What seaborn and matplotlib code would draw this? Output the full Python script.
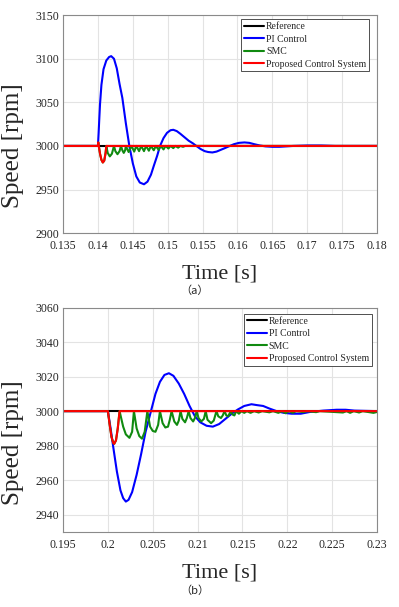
import matplotlib
matplotlib.use("Agg")
import matplotlib.pyplot as plt
import seaborn as sns

# ---- panel (a): load step at t = 0.14 s ----
A_REF = [(0.135, 3000), (0.180, 3000)]
A_PI = [(0.1350, 3000), (0.1400, 3000), (0.1401, 3015), (0.1402, 3032), (0.1403, 3048),
        (0.1405, 3070), (0.1408, 3088), (0.1412, 3098), (0.1416, 3102), (0.1419, 3103),
        (0.1423, 3100), (0.1427, 3089), (0.1431, 3071), (0.1435, 3055), (0.1440, 3026),
        (0.1445, 3000), (0.1450, 2980), (0.1455, 2965), (0.1460, 2958), (0.1466, 2956),
        (0.1471, 2959), (0.1476, 2967), (0.1480, 2977), (0.1485, 2989), (0.1489, 3000),
        (0.1494, 3009), (0.1499, 3015), (0.1504, 3018), (0.1508, 3018.5), (0.1513, 3017),
        (0.1518, 3014), (0.1524, 3010), (0.1530, 3006), (0.1536, 3003), (0.1541, 3000),
        (0.1547, 2996.5), (0.1553, 2994), (0.1558, 2993), (0.1564, 2992.5), (0.1570, 2993.5),
        (0.1576, 2995.5), (0.1582, 2997.5), (0.1589, 3000), (0.1595, 3002), (0.1602, 3003.5),
        (0.1610, 3004), (0.1617, 3003.5), (0.1624, 3002), (0.1632, 3000.5), (0.1640, 2999.5),
        (0.1650, 2999), (0.1660, 2999), (0.1670, 2999.5), (0.1680, 3000), (0.1700, 3000.5),
        (0.1720, 3000.5), (0.1740, 3000), (0.1800, 3000)]
A_SMC = [(0.1350, 3000), (0.1400, 3000), (0.14005, 3004), (0.1401, 3001), (0.1403, 2991),
         (0.1405, 2984), (0.1407, 2981), (0.1409, 2983), (0.1411, 2992), (0.1412, 3000),
         (0.1414, 2992), (0.1417, 2988), (0.1420, 2991), (0.1423, 3000),
         (0.1425, 2994), (0.1428, 2990.5), (0.1431, 2994), (0.1433, 3000),
         (0.1435, 2995), (0.1437, 2992), (0.1439, 2995), (0.1440, 3000),
         (0.1444, 2993), (0.1448, 3000), (0.1452, 2993.5), (0.1455, 3000),
         (0.1459, 2994), (0.1462, 3000), (0.1466, 2994), (0.1469, 3000),
         (0.1473, 2994.5), (0.1476, 3000), (0.1480, 2995), (0.1483, 3000),
         (0.1487, 2995.5), (0.1490, 3000), (0.1494, 2996), (0.1497, 3000),
         (0.1501, 2997), (0.1504, 3000), (0.1508, 2997.5), (0.1511, 3000),
         (0.1515, 2998), (0.1518, 3000), (0.1522, 2999), (0.1525, 3000),
         (0.1800, 3000)]
A_PROP = [(0.1350, 3000), (0.1400, 3000), (0.14005, 3004), (0.1401, 3001), (0.1403, 2991),
          (0.1405, 2984), (0.1407, 2981), (0.1409, 2983), (0.1411, 2992), (0.1412, 3000),
          (0.1800, 3000)]
A_XTICKS = [0.135, 0.14, 0.145, 0.15, 0.155, 0.16, 0.165, 0.17, 0.175, 0.18]
A_XLABELS = ["0.135", "0.14", "0.145", "0.15", "0.155", "0.16", "0.165", "0.17", "0.175", "0.18"]
A_YTICKS = [2900, 2950, 3000, 3050, 3100, 3150]

# ---- panel (b): load step at t = 0.2 s ----
B_REF = [(0.195, 3000), (0.230, 3000)]
B_PI = [(0.1950, 3000), (0.2000, 3000), (0.2003, 2990), (0.2006, 2979), (0.2010, 2965),
        (0.2014, 2954), (0.2017, 2949.5), (0.2020, 2947.5), (0.2023, 2948.5), (0.2027, 2953),
        (0.2032, 2963), (0.2037, 2975), (0.2042, 2988), (0.2048, 3000), (0.2053, 3010),
        (0.2058, 3017), (0.2063, 3021), (0.2068, 3022), (0.2073, 3020.5), (0.2079, 3016),
        (0.2085, 3010), (0.2091, 3003), (0.2097, 2997), (0.2103, 2993.5), (0.2110, 2991.5),
        (0.2117, 2991), (0.2124, 2992.5), (0.2131, 2995.5), (0.2138, 2998.5), (0.2145, 3001),
        (0.2152, 3003), (0.2160, 3004), (0.2166, 3003.5), (0.2173, 3003), (0.2180, 3001.5),
        (0.2188, 3000), (0.2196, 2999), (0.2205, 2998.5), (0.2215, 2998.5), (0.2225, 2999.5),
        (0.2240, 3000.3), (0.2255, 3000.8), (0.2265, 3000.8), (0.2275, 3000.3), (0.2300, 3000)]
B_SMC = [(0.1950, 3000), (0.2000, 3000), (0.2002, 2992), (0.2004, 2985), (0.2006, 2981.5),
         (0.2007, 2981), (0.2009, 2983), (0.2011, 2990), (0.2013, 3000),
         (0.2017, 2991), (0.2020, 2986.5), (0.2024, 2984.5), (0.2027, 2988), (0.2029, 3000),
         (0.2032, 2990), (0.2035, 2985.5), (0.2038, 2984), (0.2041, 2988), (0.2044, 3000),
         (0.2047, 2991), (0.2050, 2988.5), (0.2053, 2988), (0.2056, 2992), (0.2058, 3000),
         (0.2061, 2993), (0.2064, 2990.5), (0.2067, 2991), (0.2069, 2995), (0.2071, 3000),
         (0.2074, 2994), (0.2077, 2992), (0.2079, 2994.5), (0.2081, 3000),
         (0.2083, 2995.5), (0.2086, 2993.5), (0.2088, 2996), (0.2090, 3000),
         (0.2092, 2996), (0.2095, 2994), (0.2097, 2996), (0.2099, 3000),
         (0.2101, 2996), (0.2104, 2994), (0.2107, 2995.5), (0.2109, 3000),
         (0.2111, 2995), (0.2115, 2993), (0.2118, 2994.5), (0.2121, 3000),
         (0.2123, 2997), (0.2126, 2996), (0.2128, 2997.5), (0.2130, 3000),
         (0.2132, 2997.5), (0.2134, 2997), (0.2137, 3000),
         (0.2139, 2998), (0.2141, 2997.5), (0.2143, 3000),
         (0.2146, 2998.5), (0.2149, 3000), (0.2152, 2999), (0.2155, 3000),
         (0.2159, 2999), (0.2163, 3000), (0.2168, 2999.2), (0.2172, 3000),
         (0.2180, 2999.3), (0.2184, 3000), (0.2190, 2999), (0.2194, 3000),
         (0.2198, 2998.8), (0.2202, 3000), (0.2206, 2999), (0.2210, 3000),
         (0.2218, 2999.4), (0.2222, 3000), (0.2232, 2999.4), (0.2236, 3000),
         (0.2262, 2999.2), (0.2266, 3000), (0.2270, 2999), (0.2274, 3000),
         (0.2280, 2999.2), (0.2284, 3000), (0.2296, 2999), (0.2300, 2999.5)]
B_PROP = [(0.1950, 3000), (0.2000, 3000), (0.2002, 2992), (0.2004, 2985), (0.2006, 2981.5),
          (0.2007, 2981), (0.2009, 2983), (0.2011, 2990), (0.2013, 3000), (0.2300, 3000)]
B_XTICKS = [0.195, 0.2, 0.205, 0.21, 0.215, 0.22, 0.225, 0.23]
B_XLABELS = ["0.195", "0.2", "0.205", "0.21", "0.215", "0.22", "0.225", "0.23"]
B_YTICKS = [2940, 2960, 2980, 3000, 3020, 3040, 3060]

LABELS = ["Reference", "PI Control", "SMC", "Proposed Control System"]
COLORS = ["#000000", "#0000ff", "#108a10", "#ff0000"]
SERIF = "Liberation Serif"


def draw_panel(ax, series, xlim, ylim, xticks, xlabels, yticks, caption, anchor):
    for data, color, label in zip(series, COLORS, LABELS):
        t = [p[0] for p in data]
        v = [p[1] for p in data]
        sns.lineplot(x=t, y=v, ax=ax, color=color, lw=1.5, label=label,
                     estimator=None, sort=False)

    ax.set_xlim(*xlim)
    ax.set_ylim(*ylim)
    ax.set_xticks(xticks)
    ax.set_xticklabels(xlabels)
    ax.set_yticks(yticks)
    ax.tick_params(direction="in", length=3, width=0.6, color="#777777",
                   labelsize=8.5, pad=3)
    ax.tick_params(axis="x", pad=5)
    for lab in ax.get_xticklabels() + ax.get_yticklabels():
        lab.set_family(SERIF)
    ax.grid(True, color="#e3e3e3", lw=0.8)
    for sp in ax.spines.values():
        sp.set_visible(True)
        sp.set_color("#8a8a8a")
        sp.set_linewidth(0.8)

    ax.set_ylabel("Speed [rpm]", family=SERIF, fontsize=18)
    ax.yaxis.set_label_coords(-0.125, 0.40)
    ax.set_xlabel("Time [s]", family=SERIF, fontsize=16, labelpad=9)
    ax.text(0.42, -0.265, caption, transform=ax.transAxes, ha="center", va="center",
            fontsize=8, family=["Noto Sans CJK SC", "DejaVu Sans"])

    leg = ax.legend(loc="upper right", bbox_to_anchor=anchor, borderaxespad=0,
                    prop={"family": SERIF, "size": 7},
                    handlelength=2.1, handletextpad=0.2, labelspacing=0.36,
                    borderpad=0.3, fancybox=False, framealpha=1)
    leg.get_frame().set_edgecolor("#333333")
    leg.get_frame().set_linewidth(0.6)


def main():
    sns.set_theme(style="white")
    fig = plt.figure(figsize=(3.99, 6.07), dpi=100)

    ax_a = fig.add_axes([0.158, 0.616, 0.787, 0.359])
    draw_panel(ax_a, [A_REF, A_PI, A_SMC, A_PROP], (0.135, 0.18), (2900, 3150),
               A_XTICKS, A_XLABELS, A_YTICKS, "（a）", (0.975, 0.982))

    ax_b = fig.add_axes([0.158, 0.124, 0.787, 0.369])
    draw_panel(ax_b, [B_REF, B_PI, B_SMC, B_PROP], (0.195, 0.23), (2930, 3060),
               B_XTICKS, B_XLABELS, B_YTICKS, "（b）", (0.984, 0.973))

    fig.savefig("out.png", dpi=100, facecolor="white")
    plt.close(fig)


if __name__ == "__main__":
    main()
